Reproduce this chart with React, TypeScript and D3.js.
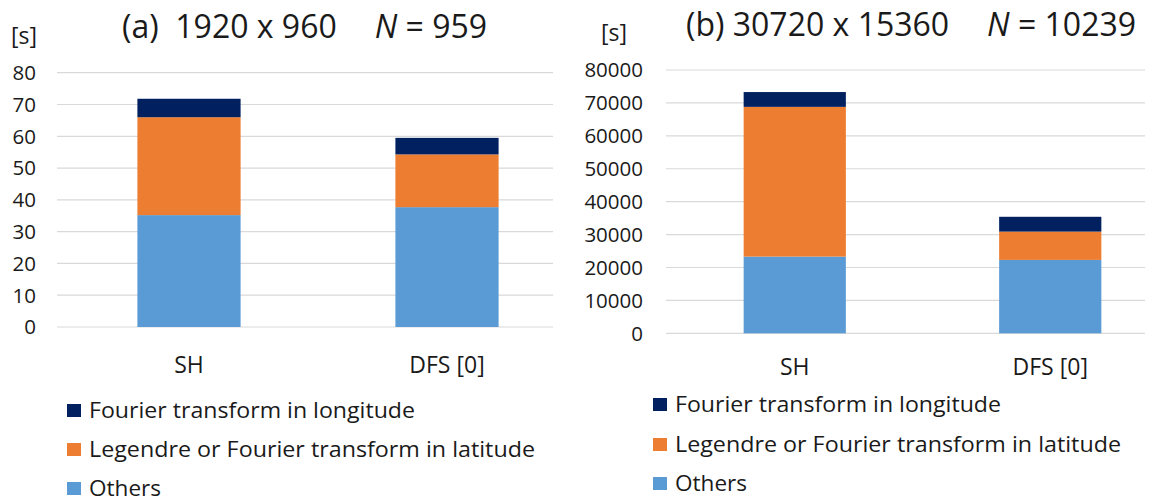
import React from "react";
import * as d3 from "d3";

const categories = ["SH", "DFS [0]"];
const seriesKeys = ["others", "legendre", "fourier"];
const seriesLabels = ["Others", "Legendre or Fourier transform in latitude", "Fourier transform in longitude"];
const seriesColors = ["#5b9bd5", "#ed7d31", "#002060"];

// panel (a) 1920 x 960, N = 959  [s]
const othersA = [35.2, 37.7];
const legendreA = [30.8, 16.6];
const fourierA = [5.8, 5.2];
const ticksA = [0, 10, 20, 30, 40, 50, 60, 70, 80];

// panel (b) 30720 x 15360, N = 10239  [s]
const othersB = [23300, 22300];
const legendreB = [45500, 8600];
const fourierB = [4500, 4500];
const ticksB = [0, 10000, 20000, 30000, 40000, 50000, 60000, 70000, 80000];

const FONT = "'Open Sans', 'Noto Sans', sans-serif";
const TXT = "#1a1a1a";
// rendered widths of legend labels (Others, Legendre..., Fourier...)
const legendWidths = [72, 446, 326];

type PanelProps = {
  others: number[];
  legendre: number[];
  fourier: number[];
  ticks: number[];
  yMax: number;
  yRange: [number, number];
  xRange: [number, number];
  gridX: [number, number];
  tickRight: number;
  unitX: number;
  unitY: number;
  titleParts: { label: string; res: string; n: string };
  titleX: number;
  titleY: number;
  catY: number;
  legendX: number;
  legendY: number[];
};

function Panel(p: PanelProps) {
  const rows = categories.map((c, i) => ({
    cat: c,
    others: p.others[i],
    legendre: p.legendre[i],
    fourier: p.fourier[i],
  }));
  const stacked = d3.stack<any>().keys(seriesKeys)(rows);
  const y = d3.scaleLinear().domain([0, p.yMax]).range(p.yRange);
  const x = d3
    .scaleBand<string>()
    .domain(categories)
    .range(p.xRange)
    .paddingInner(0.6)
    .paddingOuter(0.3);

  return (
    <g>
      {p.ticks.map((t) => (
        <g key={t}>
          <line x1={p.gridX[0]} x2={p.gridX[1]} y1={y(t)} y2={y(t)} stroke="#d9d9d9" strokeWidth={1.2} />
          <text x={p.tickRight} y={y(t)} dy="0.36em" textAnchor="end" fontSize={20.5} fill={TXT} fontFamily={FONT}>
            {t}
          </text>
        </g>
      ))}
      {stacked.map((s, si) =>
        s.map((d, i) => (
          <rect
            key={si + "-" + i}
            x={x(categories[i])}
            width={x.bandwidth()}
            y={y(d[1])}
            height={y(d[0]) - y(d[1])}
            fill={seriesColors[si]}
          />
        ))
      )}
      {categories.map((c) => (
        <text
          key={c}
          x={(x(c) as number) + x.bandwidth() / 2}
          y={p.catY}
          textAnchor="middle"
          fontSize={23}
          fill={TXT}
          fontFamily={FONT}
        >
          {c}
        </text>
      ))}
      <text x={p.unitX} y={p.unitY} fontSize={23} fill={TXT} fontFamily={FONT}>
        [s]
      </text>
      <text x={p.titleX} y={p.titleY} fontSize={32} fill={TXT} fontFamily={FONT} xmlSpace="preserve">
        <tspan>{p.titleParts.label + " " + p.titleParts.res}</tspan>
        <tspan dx={38} fontStyle="italic">N</tspan>
        <tspan>{" = " + p.titleParts.n}</tspan>
      </text>
      {[2, 1, 0].map((si, k) => (
        <g key={si}>
          <rect x={p.legendX} y={p.legendY[k] - 14} width={14} height={13} fill={seriesColors[si]} />
          <text
            x={p.legendX + 22}
            y={p.legendY[k]}
            fontSize={22}
            fill={TXT}
            fontFamily={FONT}
            textLength={legendWidths[si]}
            lengthAdjust="spacingAndGlyphs"
          >
            {seriesLabels[si]}
          </text>
        </g>
      ))}
    </g>
  );
}

export default function App() {
  return (
    <svg width={1152} height={504} style={{ position: "absolute", left: 0, top: 0, background: "#fff" }}>
      <rect width={1152} height={504} fill="#fff" />
      <Panel
        others={othersA}
        legendre={legendreA}
        fourier={fourierA}
        ticks={ticksA}
        yMax={80}
        yRange={[327, 72.7]}
        xRange={[60, 576]}
        gridX={[57, 553]}
        tickRight={36}
        unitX={11}
        unitY={44}
        titleParts={{ label: "(a) ", res: "1920 x 960", n: "959" }}
        titleX={122}
        titleY={38}
        catY={373}
        legendX={67}
        legendY={[418, 457, 496]}
      />
      <Panel
        others={othersB}
        legendre={legendreB}
        fourier={fourierB}
        ticks={ticksB}
        yMax={80000}
        yRange={[333.3, 70]}
        xRange={[667, 1178]}
        gridX={[666, 1145]}
        tickRight={643}
        unitX={601}
        unitY={41}
        titleParts={{ label: "(b)", res: "30720 x 15360", n: "10239" }}
        titleX={686}
        titleY={36}
        catY={375}
        legendX={653}
        legendY={[412, 452, 491]}
      />
    </svg>
  );
}
